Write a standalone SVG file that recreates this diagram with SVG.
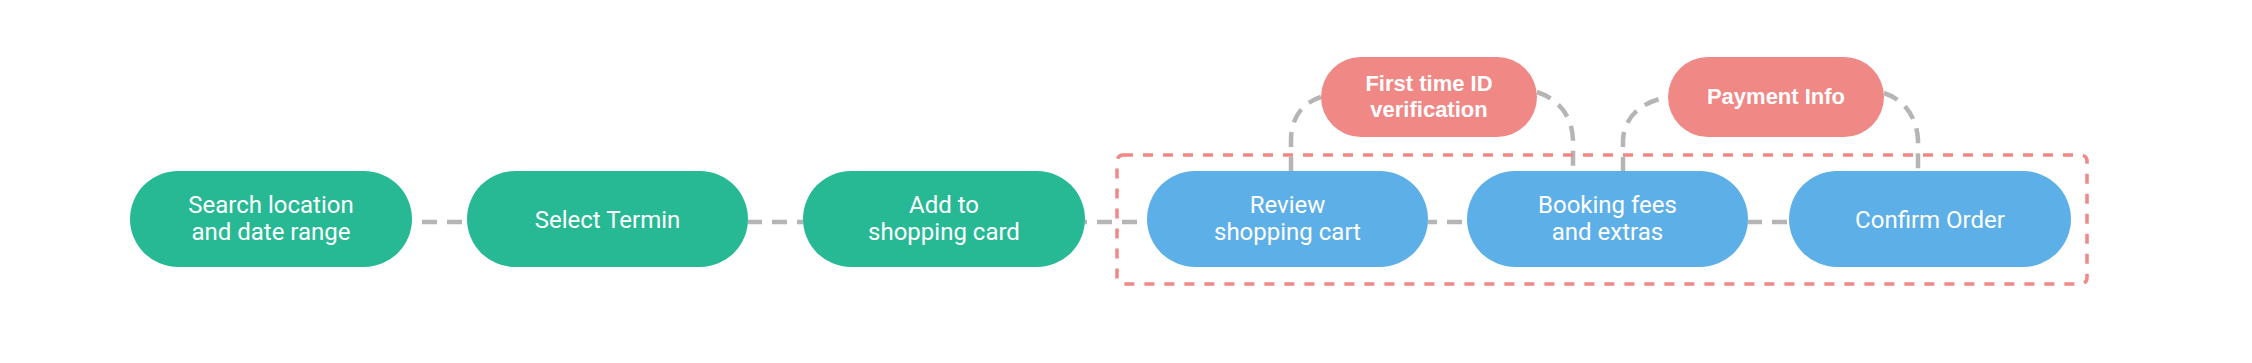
<svg xmlns="http://www.w3.org/2000/svg" width="2252" height="363" viewBox="0 0 2252 363">
  <style>
    .g { fill: #26B994; }
    .b { fill: #5DAFE7; }
    .r { fill: #F08886; }
    .t { font-family: Roboto, "Liberation Sans", sans-serif; font-size: 24px; fill: #FFFFFF; text-anchor: middle; }
    .tb { font-family: "Liberation Sans", Arial, sans-serif; font-size: 22px; font-weight: bold; fill: #FFFFFF; text-anchor: middle; }
    .c { fill: none; stroke: #B5B5B5; stroke-width: 4.5; stroke-dasharray: 15 10; }
    .grp { fill: none; stroke: #F08886; stroke-width: 3.5; stroke-dasharray: 10 10; }
  </style>
  <rect width="2252" height="363" fill="#FFFFFF"/>
  <g id="connectors">
    <line class="c" x1="412" y1="222" x2="467" y2="222" stroke-dashoffset="15"/>
    <line class="c" x1="748" y1="222" x2="803" y2="222" stroke-dashoffset="1"/>
    <line class="c" x1="1085" y1="222" x2="1147" y2="222" stroke-dashoffset="13"/>
    <line class="c" x1="1428" y1="222" x2="1467" y2="222" stroke-dashoffset="6"/>
    <line class="c" x1="1748" y1="222" x2="1789" y2="222" stroke-dashoffset="1"/>
    <path class="c" d="M1291,172 L1291,140 C1291,118 1302,103 1321,97"/>
    <path class="c" d="M1537,92 C1558,99 1572,115 1573,140 L1573,172"/>
    <path class="c" d="M1623,172 L1623,140 C1624,118 1640,102 1668,97"/>
    <path class="c" d="M1884,93 C1905,100 1917,118 1918,140 L1918,172"/>
  </g>
  <g id="group-box">
    <rect class="grp" x="1117" y="155" width="970" height="129" rx="6"/>
  </g>
  <g id="n1">
    <rect class="g" x="130" y="171" width="282" height="96" rx="48"/>
    <text class="t" x="271" y="213">Search location</text>
    <text class="t" x="271" y="240">and date range</text>
  </g>
  <g id="n2">
    <rect class="g" x="467" y="171" width="281" height="96" rx="48"/>
    <text class="t" x="607.5" y="227.5">Select Termin</text>
  </g>
  <g id="n3">
    <rect class="g" x="803" y="171" width="282" height="96" rx="48"/>
    <text class="t" x="944" y="213">Add to</text>
    <text class="t" x="944" y="240">shopping card</text>
  </g>
  <g id="n4">
    <rect class="b" x="1147" y="171" width="281" height="96" rx="48"/>
    <text class="t" x="1287.5" y="213">Review</text>
    <text class="t" x="1287.5" y="240">shopping cart</text>
  </g>
  <g id="n5">
    <rect class="b" x="1467" y="171" width="281" height="96" rx="48"/>
    <text class="t" x="1607.5" y="213">Booking fees</text>
    <text class="t" x="1607.5" y="240">and extras</text>
  </g>
  <g id="n6">
    <rect class="b" x="1789" y="171" width="282" height="96" rx="48"/>
    <text class="t" x="1930" y="227.5">Confirm Order</text>
  </g>
  <g id="r1">
    <rect class="r" x="1321" y="57" width="216" height="80" rx="40"/>
    <text class="tb" x="1429" y="91">First time ID</text>
    <text class="tb" x="1429" y="117">verification</text>
  </g>
  <g id="r2">
    <rect class="r" x="1668" y="57" width="216" height="80" rx="40"/>
    <text class="tb" x="1776" y="104">Payment Info</text>
  </g>
</svg>
